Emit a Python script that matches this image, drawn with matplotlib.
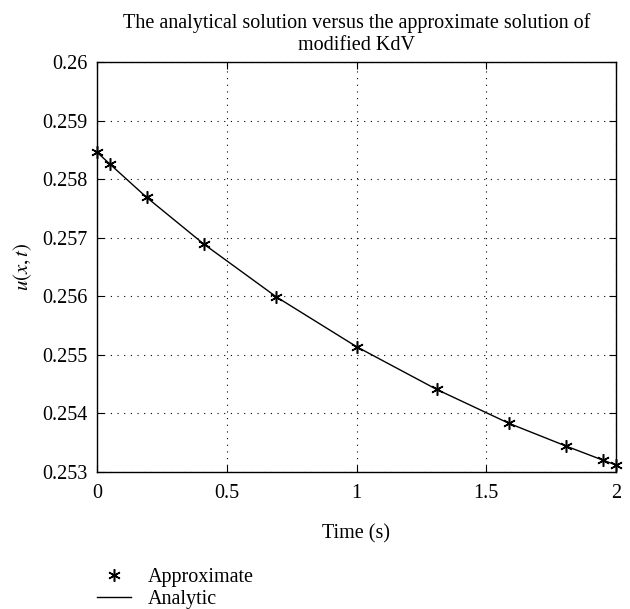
import matplotlib
matplotlib.use("Agg")
import matplotlib.pyplot as plt

# values
time = [0.0, 0.049, 0.191, 0.412, 0.691, 1.0, 1.309, 1.588, 1.809, 1.951, 2.0]
approx = [0.25846, 0.25826, 0.25769, 0.25689, 0.25599, 0.25514,
          0.25441, 0.25383, 0.25344, 0.25320, 0.25312]
analytic = [0.25846, 0.25826, 0.25769, 0.25689, 0.25599, 0.25514,
            0.25441, 0.25383, 0.25344, 0.25320, 0.25312]
xticks = [0, 0.5, 1, 1.5, 2]
xticklabels = ["0", "0.5", "1", "1.5", "2"]
yticks = [0.253, 0.254, 0.255, 0.256, 0.257, 0.258, 0.259, 0.26]
yticklabels = ["0.253", "0.254", "0.255", "0.256", "0.257", "0.258", "0.259", "0.26"]

plt.rcParams['font.family'] = ['Liberation Serif', 'DejaVu Serif']
plt.rcParams['mathtext.fontset'] = 'stix'
fs = 14.5

fig = plt.figure(figsize=(6.3, 6.09), dpi=100)
ax = fig.add_axes([97/630, 1 - 472/609, 519/630, 410/609])

ax.plot(time, approx, linestyle='none', marker=(6, 2, 0), markersize=9,
        color='black', markeredgewidth=1.1, label='Approximate', clip_on=False)
ax.plot(time, analytic, '-', color='black', linewidth=1.0, label='Analytic')

ax.set_xlim(0, 2)
ax.set_ylim(0.253, 0.26)
ax.set_xticks(xticks)
ax.set_xticklabels(xticklabels)
ax.set_yticks(yticks)
ax.set_yticklabels(yticklabels)
ax.tick_params(direction='in', top=True, right=True, length=5, width=0.8,
               colors='black', labelsize=fs, pad=7)
ax.tick_params(axis='x', pad=9)
ax.grid(True, linestyle=(0, (1, 5)), color='black', linewidth=0.8)
for s in ax.spines.values():
    s.set_linewidth(1.0)

ax.set_title("The analytical solution versus the approximate solution of\nmodified KdV",
             fontsize=fs, linespacing=1.15, pad=9)
ax.set_xlabel("Time (s)", fontsize=fs, labelpad=15)
ax.set_ylabel(r"$u(x,t)$", fontsize=fs + 0.5, labelpad=6)

ax.legend(loc='upper left', bbox_to_anchor=(0.0, -0.235), frameon=False,
          fontsize=fs, handlelength=1.7, handletextpad=0.8, labelspacing=0.12,
          borderpad=0, borderaxespad=0)

fig.savefig("out.png", dpi=100)
